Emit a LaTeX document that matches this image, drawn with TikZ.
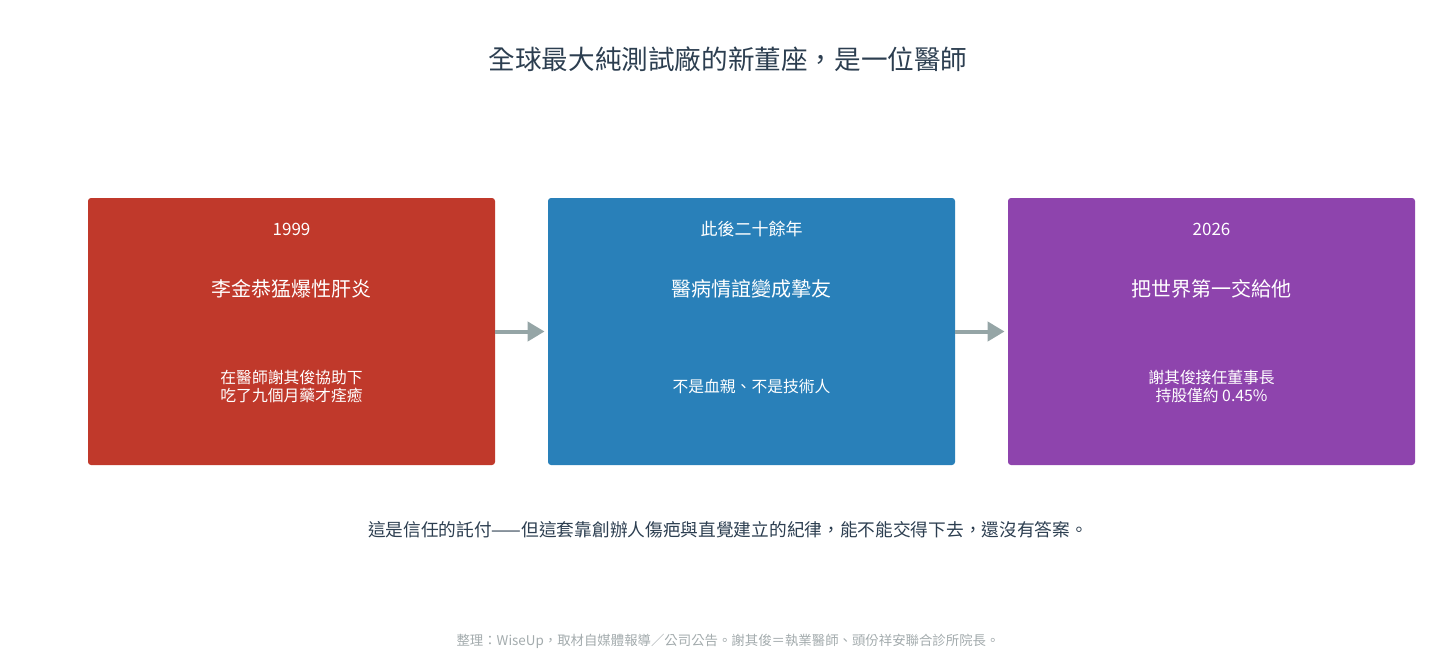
\documentclass[tikz,border=0pt]{standalone}
\usepackage{fontspec}
\setmainfont{Noto Sans CJK TC}
\usetikzlibrary{arrows.meta,positioning}
\definecolor{tlRed}{HTML}{C0392B}
\definecolor{tlBlue}{HTML}{2980B9}
\definecolor{tlPurple}{HTML}{8E44AD}
\definecolor{tlArrow}{HTML}{95A5A6}
\definecolor{tlInk}{HTML}{2C3E50}
\definecolor{tlNote}{HTML}{A3ABAD}

\begin{document}
\begin{tikzpicture}[
  x=0.5pt, y=-0.5pt,
  stage/.style={rounded corners=1.5pt, minimum width=203.5pt, minimum height=133.5pt, inner sep=0pt},
  yr/.style={text=white, font=\fontsize{8.5}{10}\selectfont},
  head/.style={text=white, font=\fontsize{10}{12}\selectfont},
  body/.style={text=white, align=center, font=\fontsize{7.9}{9}\selectfont},
  ar/.style={-{Triangle[length=8.5pt, width=9.5pt]}, draw=tlArrow, line width=2pt, shorten >=1.5pt}
]
\useasboundingbox (0,0) rectangle (1456,659);

\node[font=\fontsize{13.3}{15}\selectfont, text=tlInk] (title) at (728,59) {全球最大純測試廠的新董座，是一位醫師};

\node[stage, fill=tlRed] (s1) at (291.5,331.5) {};
\node[stage, fill=tlBlue] (s2) at (751.5,331.5) {};
\node[stage, fill=tlPurple] (s3) at (1211.5,331.5) {};

\node[yr] (y1) at (291.5,229) {1999};
\node[head] (h1) at (291.5,289) {李金恭猛爆性肝炎};
\node[body] (b1) at (291.5,386) {在醫師謝其俊協助下\\吃了九個月藥才痊癒};

\node[yr] (y2) at (751.5,229) {此後二十餘年};
\node[head] (h2) at (751.5,289) {醫病情誼變成摯友};
\node[body] (b2) at (751.5,386) {不是血親、不是技術人};

\node[yr] (y3) at (1211.5,229) {2026};
\node[head] (h3) at (1211.5,289) {把世界第一交給他};
\node[body] (b3) at (1211.5,386) {謝其俊接任董事長\\持股僅約 0.45\%};

\foreach \x/\y in {s1/s2, s2/s3} \draw[ar] (\x) -- (\y);

\node[font=\fontsize{8.85}{10}\selectfont, text=tlInk] (note) at (728,530) {這是信任的託付——但這套靠創辦人傷疤與直覺建立的紀律，能不能交得下去，還沒有答案。};
\node[font=\fontsize{6.7}{8}\selectfont, text=tlNote] (src) at (728,641) {整理：WiseUp，取材自媒體報導／公司公告。謝其俊＝執業醫師、頭份祥安聯合診所院長。};
\end{tikzpicture}
\end{document}
